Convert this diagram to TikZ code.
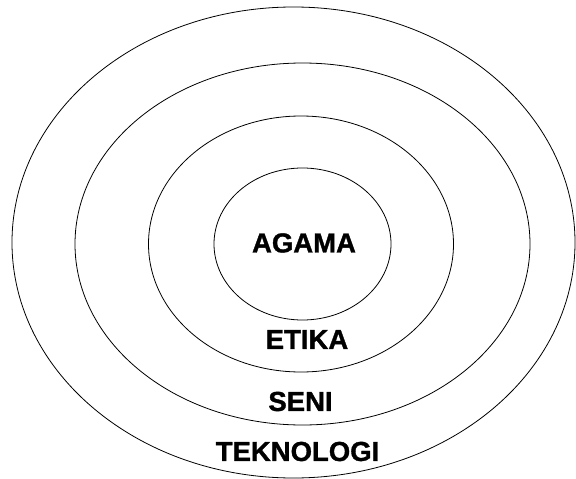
\documentclass[tikz,border=0pt]{standalone}
\usepackage{fontspec}
\setmainfont{Liberation Sans}
\newfontfamily\hurufTebal[FakeBold=1.2]{Liberation Sans Bold}
\begin{document}
\begin{tikzpicture}[x=1pt,y=-1pt,
  garis/.style={line width=0.8pt},
  tulisan/.style={font=\hurufTebal\fontsize{27.5}{30}\selectfont,inner sep=0pt}]
\useasboundingbox (0,0) rectangle (576,479);
\foreach \cx/\cy/\rx/\ry in {293.5/242.5/281.5/235.5,302.5/244/227.5/181,301/244/152.5/128,302.5/244/88.5/76}{
\draw [garis] (\cx,\cy) ellipse [x radius=\rx pt, y radius=\ry pt];
}
\node [tulisan] (agama) at (304,243) {AGAMA};
\node [tulisan] (etika) at (307,339.5) {ETIKA};
\node [tulisan] (seni) at (300.5,401.5) {SENI};
\node [tulisan] (teknologi) at (297.5,451.5) {TEKNOLOGI};
\end{tikzpicture}
\end{document}
